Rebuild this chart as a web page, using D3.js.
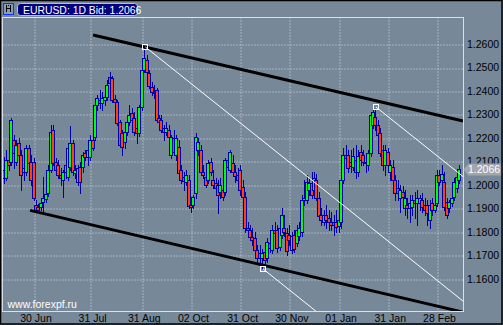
<!DOCTYPE html>
<html><head><meta charset="utf-8">
<script src="https://cdn.jsdelivr.net/npm/d3@7"></script>
<style>html,body{margin:0;padding:0;background:#778899;} svg{display:block;}</style>
</head><body>
<svg id="c" width="503" height="325"></svg>
<script>
// ---------------- data ----------------
const titleText = "EURUSD: 1D Bid: 1.2066";
const watermark = "www.forexpf.ru";
const lastPrice = 1.2066;
const priceTicks = [1.16, 1.17, 1.18, 1.19, 1.20, 1.21, 1.22, 1.23, 1.24, 1.25, 1.26];
const dateLabels = ["30 Jun", "31 Jul", "31 Aug", "02 Oct", "31 Oct", "30 Nov", "01 Jan", "31 Jan", "28 Feb"];
const dateLabelBars = [12, 35, 56, 76, 96, 116, 136, 156, 176];
// daily bars: [open, high, low, close]
const bars = [
[1.2064,1.2119,1.2008,1.2030],[1.2030,1.2149,1.2021,1.2106],[1.2106,1.2128,1.2064,1.2085],[1.2098,1.2285,1.2085,1.2277],
[1.2191,1.2213,1.2072,1.2136],[1.2098,1.2191,1.2085,1.2170],[1.2178,1.2200,1.2064,1.2128],[1.2128,1.2149,1.1979,1.2043],
[1.2055,1.2106,1.2021,1.2072],[1.2055,1.2170,1.2043,1.2157],[1.2157,1.2170,1.2085,1.2093],[1.2098,1.2128,1.2000,1.2021],
[1.2098,1.2115,1.1936,1.1945],[1.1915,1.1936,1.1885,1.1894],[1.1906,1.1919,1.1885,1.1894],[1.1906,1.1936,1.1894,1.1923],
[1.1928,1.2034,1.1885,1.1945],[1.1940,1.1979,1.1928,1.1962],[1.1966,1.2085,1.1953,1.2064],[1.2064,1.2255,1.2055,1.2226],
[1.2234,1.2255,1.2085,1.2093],[1.2098,1.2115,1.2043,1.2064],[1.2085,1.2106,1.2030,1.2043],[1.2043,1.2072,1.2000,1.2030],
[1.2021,1.2064,1.1949,1.2055],[1.2055,1.2106,1.2030,1.2085],[1.2034,1.2170,1.2021,1.2157],[1.2077,1.2251,1.2064,1.2178],
[1.2178,1.2191,1.2043,1.2055],[1.2051,1.2085,1.2030,1.2064],[1.2013,1.2085,1.2000,1.2072],[1.2077,1.2098,1.1966,1.2013],
[1.2077,1.2140,1.2055,1.2128],[1.2136,1.2149,1.2106,1.2119],[1.2119,1.2191,1.2085,1.2149],[1.2119,1.2213,1.2106,1.2191],
[1.2191,1.2213,1.2149,1.2157],[1.2204,1.2362,1.2191,1.2340],[1.2340,1.2383,1.2319,1.2370],[1.2362,1.2404,1.2328,1.2349],
[1.2349,1.2396,1.2319,1.2370],[1.2362,1.2404,1.2340,1.2374],[1.2374,1.2447,1.2362,1.2426],[1.2460,1.2481,1.2421,1.2434],
[1.2455,1.2464,1.2353,1.2362],[1.2366,1.2383,1.2336,1.2353],[1.2353,1.2362,1.2255,1.2264],[1.2268,1.2277,1.2166,1.2170],
[1.2221,1.2234,1.2128,1.2162],[1.2183,1.2243,1.2157,1.2226],[1.2226,1.2285,1.2213,1.2268],[1.2268,1.2340,1.2255,1.2298],
[1.2306,1.2328,1.2264,1.2277],[1.2285,1.2311,1.2213,1.2226],[1.2243,1.2255,1.2178,1.2221],[1.2221,1.2340,1.2208,1.2332],
[1.2332,1.2511,1.2319,1.2489],[1.2489,1.2587,1.2481,1.2540],[1.2532,1.2553,1.2472,1.2481],[1.2477,1.2489,1.2413,1.2421],
[1.2417,1.2438,1.2383,1.2396],[1.2396,1.2426,1.2370,1.2391],[1.2404,1.2413,1.2268,1.2277],[1.2285,1.2298,1.2255,1.2268],
[1.2277,1.2298,1.2226,1.2234],[1.2243,1.2255,1.2191,1.2226],[1.2226,1.2268,1.2213,1.2243],[1.2234,1.2255,1.2191,1.2204],
[1.2128,1.2213,1.2115,1.2204],[1.2200,1.2234,1.2128,1.2140],[1.2128,1.2213,1.2106,1.2200],[1.2162,1.2191,1.2043,1.2051],
[1.2064,1.2085,1.2008,1.2021],[1.2034,1.2055,1.1979,1.2017],[1.2013,1.2064,1.2000,1.2043],[1.2021,1.2043,1.1902,1.1911],
[1.1915,1.1936,1.1885,1.1906],[1.1915,1.1957,1.1902,1.1949],[1.1966,1.2221,1.1945,1.2204],[1.2149,1.2200,1.2128,1.2183],
[1.2149,1.2170,1.2043,1.2055],[1.2055,1.2085,1.2030,1.2043],[1.2034,1.2064,1.1991,1.2000],[1.2021,1.2106,1.2008,1.2093],
[1.2098,1.2115,1.2043,1.2055],[1.2021,1.2064,1.1987,1.2000],[1.2008,1.2030,1.1970,1.1987],[1.2000,1.2021,1.1881,1.1957],
[1.1970,1.2030,1.1945,1.2000],[1.1979,1.2008,1.1936,1.1949],[1.1970,1.2115,1.1957,1.2106],[1.2106,1.2128,1.2064,1.2077],
[1.2064,1.2149,1.2055,1.2140],[1.2093,1.2128,1.2043,1.2055],[1.2055,1.2085,1.2013,1.2038],[1.2043,1.2072,1.2000,1.2021],
[1.2064,1.2085,1.1957,1.1979],[1.1991,1.2021,1.1936,1.1949],[1.1949,1.1970,1.1800,1.1817],[1.1817,1.1843,1.1787,1.1809],
[1.1809,1.1830,1.1766,1.1779],[1.1779,1.1817,1.1745,1.1766],[1.1774,1.1800,1.1715,1.1723],[1.1723,1.1745,1.1672,1.1689],
[1.1711,1.1745,1.1672,1.1689],[1.1689,1.1728,1.1647,1.1711],[1.1715,1.1745,1.1660,1.1681],[1.1689,1.1774,1.1672,1.1757],
[1.1753,1.1787,1.1715,1.1732],[1.1723,1.1830,1.1711,1.1809],[1.1809,1.1843,1.1783,1.1796],[1.1809,1.1830,1.1715,1.1732],
[1.1736,1.1830,1.1723,1.1817],[1.1787,1.1902,1.1774,1.1872],[1.1817,1.1872,1.1783,1.1800],[1.1796,1.1817,1.1702,1.1719],
[1.1787,1.1830,1.1745,1.1766],[1.1723,1.1800,1.1711,1.1783],[1.1787,1.1809,1.1715,1.1728],[1.1753,1.1830,1.1740,1.1809],
[1.1783,1.1843,1.1766,1.1817],[1.1800,1.1957,1.1783,1.1936],[1.1936,1.2021,1.1915,1.1945],[1.1936,1.2043,1.1923,1.2013],
[1.1979,1.2030,1.1957,1.2008],[1.2008,1.2055,1.1945,1.1957],[1.1979,1.2055,1.1966,1.2030],[1.2021,1.2047,1.1936,1.1945],
[1.1945,1.1970,1.1860,1.1868],[1.1872,1.1902,1.1830,1.1851],[1.1843,1.1894,1.1830,1.1872],[1.1872,1.1915,1.1817,1.1851],
[1.1860,1.1894,1.1809,1.1843],[1.1843,1.1885,1.1809,1.1830],[1.1843,1.1872,1.1787,1.1830],[1.1843,1.1894,1.1800,1.1821],
[1.1826,1.1872,1.1800,1.1851],[1.1843,1.2030,1.1817,1.2021],[1.2021,1.2157,1.2008,1.2128],[1.2128,1.2170,1.2098,1.2115],
[1.2128,1.2149,1.2055,1.2072],[1.2098,1.2149,1.2055,1.2081],[1.2077,1.2157,1.2064,1.2123],[1.2106,1.2170,1.2030,1.2055],
[1.2055,1.2149,1.2038,1.2123],[1.2140,1.2170,1.2085,1.2106],[1.2128,1.2149,1.2085,1.2098],[1.2098,1.2128,1.2055,1.2093],
[1.2085,1.2149,1.2064,1.2136],[1.2136,1.2311,1.2123,1.2298],[1.2255,1.2332,1.2243,1.2311],[1.2289,1.2319,1.2234,1.2255],
[1.2255,1.2277,1.2200,1.2213],[1.2221,1.2243,1.2123,1.2136],[1.2149,1.2170,1.2064,1.2085],[1.2085,1.2170,1.2043,1.2149],
[1.2140,1.2157,1.2055,1.2085],[1.2055,1.2106,1.2021,1.2085],[1.2077,1.2106,1.2000,1.2021],[1.2021,1.2043,1.1936,1.1966],
[1.1987,1.2021,1.1936,1.1966],[1.1945,1.2000,1.1885,1.1979],[1.1970,1.1996,1.1936,1.1949],[1.1902,1.1979,1.1872,1.1945],
[1.1915,1.1945,1.1860,1.1902],[1.1902,1.1957,1.1843,1.1923],[1.1906,1.1957,1.1872,1.1936],[1.1936,1.1970,1.1860,1.1923],
[1.1923,1.1979,1.1830,1.1945],[1.1923,1.1957,1.1894,1.1945],[1.1936,1.1966,1.1885,1.1906],[1.1915,1.1945,1.1872,1.1894],
[1.1915,1.1936,1.1830,1.1881],[1.1851,1.1936,1.1817,1.1915],[1.1923,1.1945,1.1872,1.1894],[1.1894,1.1936,1.1885,1.1915],
[1.1923,1.2064,1.1911,1.2043],[1.2043,1.2064,1.2000,1.2013],[1.2021,1.2085,1.2000,1.2047],[1.2013,1.2055,1.1894,1.1906],
[1.1928,1.1945,1.1860,1.1872],[1.1902,1.1936,1.1885,1.1928],[1.1923,1.1957,1.1911,1.1945],[1.1949,1.2030,1.1936,1.2013],
[1.1987,1.2055,1.1970,1.2034],[1.2021,1.2085,1.2008,1.2066]
];
// trend lines: [[barIndex, price], [barIndex, price]]
const channelLines = [
  [[36.2, 1.2638], [186.6, 1.2272]],
  [[10.6, 1.1892], [186.6, 1.1459]]
];
const fanLines = [
  [[57.5, 1.2587], [186.6, 1.1506]],
  [[105.3, 1.1643], [128.0, 1.1453]],
  [[151.2, 1.2332], [186.6, 1.2036]]
];
const anchorPoints = [[57.5, 1.2587], [105.3, 1.1643], [151.2, 1.2332]];

// ---------------- drawing ----------------
const W = 503, H = 325;
const plot = {left: 2.5, right: 463.5, top: 17.5, bottom: 311.5};
const svg = d3.select("#c");
const font = "'Liberation Sans', Arial, sans-serif";

svg.append("rect").attr("width", W).attr("height", H).attr("fill", "#778899");

const x = d3.scaleLinear().domain([0, bars.length - 1]).range([4, 459.1]);
const y = d3.scaleLinear().domain([1.14638, 1.27149]).range([311, 17]);

svg.append("defs").append("clipPath").attr("id", "pc")
  .append("rect").attr("x", plot.left).attr("y", plot.top)
  .attr("width", plot.right - plot.left).attr("height", plot.bottom - plot.top);

// grid
const gridColor = "#d6dde8";
const gy = svg.append("g").attr("transform", `translate(${plot.left},0)`)
  .call(d3.axisRight(y).tickValues(priceTicks).tickSize(plot.right - plot.left).tickFormat(""));
gy.select(".domain").remove();
gy.selectAll("line").attr("stroke", gridColor).attr("stroke-dasharray", "1,2")
  .attr("transform", function(d){ return `translate(0,${Math.round(y(d)) + 0.5 - y(d)})`; });

const gx = svg.append("g").attr("transform", `translate(0,${plot.top})`)
  .call(d3.axisBottom(x).tickValues(dateLabelBars).tickSize(plot.bottom - plot.top).tickFormat(""));
gx.select(".domain").remove();
gx.selectAll("line").attr("stroke", gridColor).attr("stroke-dasharray", "1,2")
  .attr("transform", function(d){ return `translate(${Math.round(x(d)) + 0.5 - x(d)},0)`; });

// candles
const blue = "#0000a8", up = "#00ff00", down = "#ff4010";
const cg = svg.append("g").attr("clip-path", "url(#pc)").attr("shape-rendering", "crispEdges");
bars.forEach((b, i) => {
  const [o, h, l, c] = b;
  const cx = Math.round(x(i));
  cg.append("line").attr("x1", cx + 0.5).attr("x2", cx + 0.5)
    .attr("y1", Math.round(y(h))).attr("y2", Math.round(y(l)) + 1)
    .attr("stroke", blue).attr("stroke-width", 1);
  const t = Math.round(y(Math.max(o, c))), bt = Math.round(y(Math.min(o, c)));
  cg.append("rect").attr("x", cx - 1.5).attr("y", t + 0.5)
    .attr("width", 3).attr("height", Math.max(1, bt - t))
    .attr("fill", c >= o ? up : down).attr("stroke", blue).attr("stroke-width", 1);
});

// trend lines
const lg = svg.append("g").attr("clip-path", "url(#pc)");
channelLines.forEach(L => {
  lg.append("line").attr("x1", x(L[0][0])).attr("y1", y(L[0][1]))
    .attr("x2", x(L[1][0])).attr("y2", y(L[1][1]))
    .attr("stroke", "#000").attr("stroke-width", 3);
});
fanLines.forEach(L => {
  lg.append("line").attr("x1", x(L[0][0])).attr("y1", y(L[0][1]))
    .attr("x2", x(L[1][0])).attr("y2", y(L[1][1]))
    .attr("stroke", "#fff").attr("stroke-width", 1);
});
anchorPoints.forEach(p => {
  svg.append("rect").attr("x", Math.round(x(p[0])) - 2.5).attr("y", Math.round(y(p[1])) - 2.5)
    .attr("width", 5).attr("height", 5).attr("fill", "none")
    .attr("stroke", "#fff").attr("stroke-width", 1).attr("shape-rendering", "crispEdges");
});

// plot border
svg.append("rect").attr("x", plot.left).attr("y", plot.top)
  .attr("width", plot.right - plot.left).attr("height", plot.bottom - plot.top)
  .attr("fill", "none").attr("stroke", "#d8e0ee").attr("stroke-width", 1);

// right price axis
const ay = svg.append("g").attr("transform", `translate(${plot.right},0)`)
  .call(d3.axisRight(y).tickValues(priceTicks).tickSize(0).tickPadding(3.5).tickFormat(d3.format(".4f")));
ay.select(".domain").remove();
ay.selectAll("text").attr("fill", "#000").attr("font-family", font).attr("font-size", 10.5);

// bottom date axis
const ax = svg.append("g").attr("transform", `translate(0,${plot.bottom})`)
  .call(d3.axisBottom(x).tickValues(dateLabelBars).tickSize(0).tickPadding(3.5)
    .tickFormat((d, i) => dateLabels[i]));
ax.select(".domain").remove();
ax.selectAll("text").attr("fill", "#000").attr("font-family", font).attr("font-size", 10.5).attr("dx", 2);

// last price tag
const ly = Math.round(y(lastPrice)) + 0.5;
svg.append("path")
  .attr("d", `M${plot.right},${ly} L${plot.right + 5},${ly - 6} L502,${ly - 6} L502,${ly + 6} L${plot.right + 5},${ly + 6} Z`)
  .attr("fill", "#a2a6ab");
svg.append("text").attr("x", 468).attr("y", ly).attr("dy", "0.35em")
  .attr("fill", "#fff").attr("font-family", font).attr("font-size", 10.5)
  .text(d3.format(".4f")(lastPrice));

// title box
svg.append("rect").attr("x", 17.5).attr("y", 3.5).attr("width", 120).attr("height", 12).attr("rx", 3)
  .attr("fill", "#000080").attr("stroke", "#b8c0cc");
svg.append("text").attr("x", 23).attr("y", 13.5).attr("fill", "#fff")
  .attr("font-family", font).attr("font-size", 10.4).text(titleText);

// icon
svg.append("rect").attr("x", 3.5).attr("y", 3.5).attr("width", 10).attr("height", 11)
  .attr("fill", "#8a9ab0").attr("stroke", "#1030ff").attr("shape-rendering", "crispEdges");
svg.append("path").attr("d", "M6.5,5 V12 M10.5,5 V12 M6.5,8.5 H10.5 M8.5,5 V6")
  .attr("stroke", "#000").attr("fill", "none").attr("shape-rendering", "crispEdges");

// watermark
svg.append("text").attr("x", 7.5).attr("y", 308).attr("fill", "#fff")
  .attr("font-family", font).attr("font-size", 10.5).text(watermark);

// outer frame
svg.append("rect").attr("x", 0.5).attr("y", 0.5).attr("width", W - 1.5).attr("height", H - 1.5)
  .attr("fill", "none").attr("stroke", "#000").attr("stroke-width", 1.5);
</script>
</body></html>
